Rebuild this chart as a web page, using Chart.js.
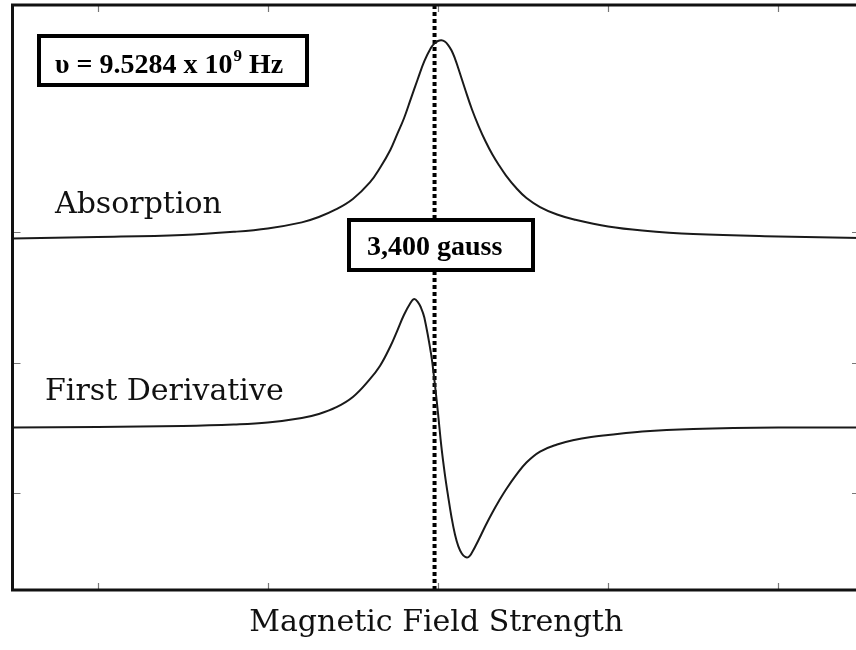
<!DOCTYPE html>
<html>
<head>
<meta charset="utf-8">
<script src="https://cdn.jsdelivr.net/npm/chart.js@4.4.1/dist/chart.umd.min.js"></script>
<style>
  html, body { margin: 0; padding: 0; background: #fff; overflow: hidden; }
  #wrap { width: 870px; height: 650px; }
</style>
</head>
<body>
<div id="wrap"><canvas id="eprChart"></canvas></div>
<script>
const fieldAbs = [3275, 3300, 3325, 3340, 3350, 3360, 3365, 3370, 3375, 3380, 3383, 3386, 3388, 3390, 3392, 3394, 3396, 3398, 3399, 3400, 3401, 3402, 3403, 3404, 3405, 3406, 3408, 3410, 3412, 3414, 3416, 3418, 3420, 3423, 3426, 3430, 3435, 3440, 3450, 3460, 3475, 3500, 3524];
const absorption = [2.954, 2.965, 2.981, 3.005, 3.031, 3.078, 3.119, 3.177, 3.258, 3.385, 3.498, 3.635, 3.755, 3.877, 4.026, 4.175, 4.318, 4.423, 4.455, 4.473, 4.479, 4.469, 4.442, 4.4, 4.338, 4.262, 4.1, 3.946, 3.815, 3.7, 3.6, 3.515, 3.438, 3.342, 3.265, 3.196, 3.138, 3.1, 3.046, 3.015, 2.988, 2.969, 2.958];

const fieldDeriv = [3275, 3300, 3325, 3340, 3350, 3360, 3365, 3370, 3375, 3380, 3383, 3386, 3388, 3390, 3392, 3393, 3394, 3395, 3396, 3398, 3399, 3400, 3401, 3402, 3403, 3404, 3405, 3406, 3407, 3408, 3409, 3410, 3412, 3414, 3416, 3418, 3420, 3423, 3426, 3430, 3435, 3440, 3445, 3450, 3460, 3475, 3500, 3524];
const firstDerivative = [1.5, 1.504, 1.512, 1.523, 1.538, 1.573, 1.604, 1.654, 1.735, 1.872, 1.975, 2.123, 2.242, 2.365, 2.462, 2.488, 2.469, 2.423, 2.346, 2.062, 1.854, 1.615, 1.354, 1.146, 0.969, 0.808, 0.677, 0.585, 0.531, 0.504, 0.504, 0.538, 0.638, 0.746, 0.846, 0.938, 1.023, 1.135, 1.231, 1.315, 1.369, 1.404, 1.427, 1.442, 1.469, 1.488, 1.5, 1.5];

const fieldTicks = [3300, 3350, 3400, 3450, 3500];
const signalTicks = [1, 2, 3];
const resonanceField = 3399;

const fieldRange = [3275, 3524];
const signalRange = [0.25, 4.75];

function toPoints(xs, ys) {
  return xs.map((x, i) => ({ x: x, y: ys[i] }));
}

// frame, inward ticks, curve labels and the two boxes
const decorPlugin = {
  id: 'decor',
  afterDatasetsDraw(chart) {
    const ctx = chart.ctx;
    const area = chart.chartArea;
    const xs = chart.scales.x;
    const ys = chart.scales.y;

    ctx.save();
    ctx.strokeStyle = '#777';
    ctx.lineWidth = 1.2;
    fieldTicks.forEach(v => {
      const px = Math.round(xs.getPixelForValue(v)) + 0.5;
      ctx.beginPath();
      ctx.moveTo(px, area.bottom); ctx.lineTo(px, area.bottom - 7);
      ctx.moveTo(px, area.top); ctx.lineTo(px, area.top + 7);
      ctx.stroke();
    });
    signalTicks.forEach(v => {
      const py = Math.round(ys.getPixelForValue(v)) + 0.5;
      ctx.beginPath();
      ctx.moveTo(area.left, py); ctx.lineTo(area.left + 8, py);
      ctx.moveTo(area.right, py); ctx.lineTo(area.right - 8, py);
      ctx.stroke();
    });

    ctx.strokeStyle = '#111';
    ctx.lineWidth = 3;
    ctx.strokeRect(area.left, area.top, area.right - area.left, area.bottom - area.top);

    ctx.fillStyle = '#111';
    ctx.font = '30px "DejaVu Serif"';
    ctx.textBaseline = 'alphabetic';
    ctx.fillText('Absorption', 55, 213);
    ctx.fillText('First Derivative', 45, 400);

    // boxes
    ctx.lineWidth = 4;
    ctx.strokeStyle = '#000';
    ctx.fillStyle = '#fff';
    ctx.fillRect(39, 36, 268, 49);
    ctx.strokeRect(39, 36, 268, 49);
    ctx.fillRect(349, 220, 184, 50);
    ctx.strokeRect(349, 220, 184, 50);

    ctx.fillStyle = '#000';
    ctx.font = 'bold 28px "Liberation Serif"';
    let x = 55;
    const part1 = '\u03C5 = 9.5284 x 10';
    ctx.fillText(part1, x, 73);
    x += ctx.measureText(part1).width;
    ctx.font = 'bold 17px "Liberation Serif"';
    ctx.fillText('9', x + 1, 61);
    x += ctx.measureText('9').width + 1;
    ctx.font = 'bold 28px "Liberation Serif"';
    ctx.fillText(' Hz', x, 73);

    ctx.fillText('3,400 gauss', 367, 255);
    ctx.restore();
  }
};

new Chart(document.getElementById('eprChart'), {
  type: 'line',
  data: {
    datasets: [
      {
        label: 'Absorption',
        data: toPoints(fieldAbs, absorption),
        borderColor: '#1a1a1a',
        borderWidth: 2,
        pointRadius: 0,
        tension: 0.4
      },
      {
        label: 'First Derivative',
        data: toPoints(fieldDeriv, firstDerivative),
        borderColor: '#1a1a1a',
        borderWidth: 2,
        pointRadius: 0,
        tension: 0.4
      },
      {
        label: 'Resonance',
        data: [{ x: resonanceField, y: signalRange[0] }, { x: resonanceField, y: signalRange[1] }],
        borderColor: '#000',
        borderWidth: 4,
        borderDash: [4, 3],
        pointRadius: 0
      }
    ]
  },
  options: {
    responsive: true,
    maintainAspectRatio: false,
    animation: false,
    layout: { padding: { left: 12.5, top: 5, right: 10, bottom: 3 } },
    plugins: {
      legend: { display: false },
      tooltip: { enabled: false }
    },
    scales: {
      x: {
        type: 'linear',
        min: fieldRange[0],
        max: fieldRange[1],
        ticks: { display: false },
        grid: { display: false, drawTicks: false },
        border: { display: false },
        title: {
          display: true,
          text: 'Magnetic Field Strength',
          color: '#111',
          font: { family: 'DejaVu Serif', size: 30 },
          padding: { top: 15, bottom: 6 }
        }
      },
      y: {
        display: false,
        min: signalRange[0],
        max: signalRange[1]
      }
    }
  },
  plugins: [decorPlugin]
});
</script>
</body>
</html>
